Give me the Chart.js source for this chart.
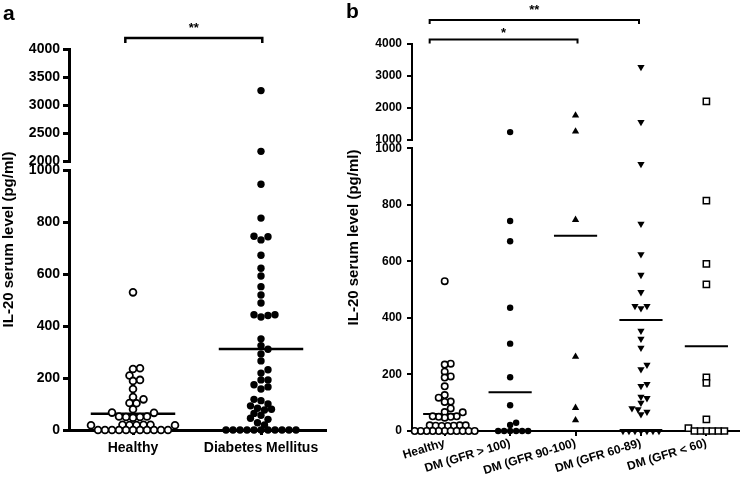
<!DOCTYPE html>
<html>
<head>
<meta charset="utf-8">
<script src="https://cdn.jsdelivr.net/npm/chart.js@4"></script>
<style>
  body { margin: 0; background: #fff; }
  #wrap { position: relative; width: 745px; height: 486px; overflow: hidden; }
  canvas { position: absolute; top: 0; }
  #cA { left: 0; }
  #cB { left: 340px; }
  .panel { position: absolute; font: bold 21px "Liberation Sans", Arial, sans-serif; line-height: 21px; }
</style>
</head>
<body>
<div id="wrap">
  <canvas id="cA" width="340" height="486"></canvas>
  <canvas id="cB" width="405" height="486"></canvas>
  <div class="panel" style="left:3px;top:2px">a</div>
  <div class="panel" style="left:346px;top:0px">b</div>
</div>

<script>
// ============================================================
// DATA (IL-20 serum level, pg/ml)
// ============================================================

const catsA = ["Healthy", "Diabetes Mellitus"];
const catsB = ["Healthy", "DM (GFR > 100)", "DM (GFR 90-100)", "DM (GFR 60-89)", "DM (GFR < 60)"];

const healthy = [530, 238, 235, 210, 193, 189, 158, 127, 118, 104, 103, 80, 67, 66,
  52, 50, 47, 50, 52, 20, 19, 18, 20, 19, 18, 20, 0, 0, 0, 0, 0, 0, 0, 0, 0, 0, 0];

const diabetes = [3260, 2180, 946, 816, 746, 732, 744, 673, 623, 593, 552, 520, 489,
  444, 441, 435, 444, 351, 325, 311, 293, 266, 232, 219, 193, 193, 174, 166, 158,
  118, 113, 100, 93, 84, 80, 77, 64, 57, 45, 41, 28, 19, 0, 0, 0, 0, 0, 0, 0, 0, 0, 0, 0];

const gfrOver100 = [1240, 743, 671, 436, 309, 190, 91, 29, 21, 0, 0, 0, 0, 0, 0];
const gfr90to100 = [1760, 1260, 747, 263, 82, 38];
const gfr60to89 = [3280, 1555, 944, 733, 625, 552, 491, 442, 434, 442, 354, 326, 294,
  218, 234, 166, 159, 121, 100, 116, 80, 68, 59, 77, 0, 0, 0, 0, 0, 0, 0];
const gfrUnder60 = [2200, 815, 591, 519, 190, 170, 41, 10, 0, 0, 0, 0, 0, 0];

// horizontal group lines
const barsA = [63, 312];
const barsB = [60, 137, 691, 393, 300];

// axis ticks
const lowTicks = [0, 200, 400, 600, 800, 1000];
const highTicksA = [2000, 2500, 3000, 3500, 4000];
const highTicksB = [1000, 2000, 3000, 4000];

const FONT = '"Liberation Sans", Arial, sans-serif';
Chart.defaults.font.family = FONT;
Chart.defaults.color = "#000";


// ============================================================
// HELPERS
// ============================================================

function groupSets(values, cat, cut, style) {
  const lo = values.filter(v => v <= cut).map(v => ({ x: cat, y: v, cat }));
  const hi = values.filter(v => v > cut).map(v => ({ x: cat, y: v, cat }));
  return [
    Object.assign({ type: "scatter", data: lo, yAxisID: "yLo", clip: false }, style),
    Object.assign({ type: "scatter", data: hi, yAxisID: "yHi", clip: false }, style)
  ];
}

function barSet(cat, value, width) {
  return {
    type: "line",
    data: [{ x: cat - 0.33, y: value }, { x: cat + 0.33, y: value }],
    yAxisID: "yLo", borderColor: "#000", borderWidth: width,
    pointRadius: 0, fill: false, clip: false
  };
}

function yAxis(ticks, weight, w, size, lw, tickLen, pad, order) {
  return {
    type: "linear", position: "left", stack: "y", stackWeight: weight, weight: order,
    min: ticks[0], max: ticks[ticks.length - 1],
    afterBuildTicks: s => { s.ticks = ticks.map(v => ({ value: v })); },
    ticks: { autoSkip: false, padding: pad, font: { size, weight: "bold" }, callback: v => String(v) },
    grid: { drawOnChartArea: false, drawTicks: true, tickLength: tickLen, lineWidth: lw, color: "#000" },
    border: { display: true, color: "#000", width: lw },
    afterFit: s => { s.width = w; }
  };
}

function gapAxis(weight, w) {
  return {
    type: "linear", position: "left", stack: "y", stackWeight: weight, weight: 2,
    min: 0, max: 1,
    ticks: { display: false }, grid: { display: false }, border: { display: false },
    afterFit: s => { s.width = w; }
  };
}

function xAxis(cats, size, rotation, lw, h, pad) {
  return {
    type: "linear", position: "bottom", min: 0.5, max: cats.length + 0.5,
    afterBuildTicks: s => { s.ticks = cats.map((c, i) => ({ value: i + 1 })); },
    ticks: {
      autoSkip: false, minRotation: rotation, maxRotation: rotation, padding: pad,
      font: { size, weight: "bold" }, callback: v => cats[v - 1]
    },
    grid: { drawOnChartArea: false, drawTicks: true, tickLength: 5, lineWidth: lw, color: "#000" },
    border: { color: "#000", width: lw },
    afterFit: s => { s.height = h; }
  };
}

// brackets + rotated y title
const annotate = {
  id: "annotate",
  afterDraw(chart, args, opts) {
    const ctx = chart.ctx, xs = chart.scales.x, area = chart.chartArea;
    ctx.save();
    ctx.strokeStyle = "#000";
    ctx.fillStyle = "#000";
    ctx.lineWidth = opts.lineWidth;
    ctx.font = "bold 13px " + FONT;
    ctx.textAlign = "center";
    opts.brackets.forEach(b => {
      const x0 = xs.getPixelForValue(b.from), x1 = xs.getPixelForValue(b.to);
      ctx.beginPath();
      ctx.moveTo(x0, b.y + b.drop);
      ctx.lineTo(x0, b.y);
      ctx.lineTo(x1, b.y);
      ctx.lineTo(x1, b.y + b.drop);
      ctx.stroke();
      ctx.fillText(b.label, (x0 + x1) / 2, b.textY);
    });
    ctx.translate(opts.titleX, (area.top + area.bottom) / 2);
    ctx.rotate(-Math.PI / 2);
    ctx.font = "bold 15px " + FONT;
    ctx.textBaseline = "middle";
    ctx.fillText("IL-20 serum level (pg/ml)", 0, 0);
    ctx.restore();
  }
};

// beeswarm-like spread of points inside each category
function spread(chart, step, minDist) {
  const xs = chart.scales.x;
  const pxPerUnit = xs.getPixelForValue(1) - xs.getPixelForValue(0);
  const byCat = {};
  chart.data.datasets.forEach(ds => {
    if (ds.type !== "scatter") return;
    const ys = chart.scales[ds.yAxisID];
    ds.data.forEach(p => {
      (byCat[p.cat] = byCat[p.cat] || []).push({ p, py: ys.getPixelForValue(p.y) });
    });
  });
  Object.values(byCat).forEach(list => {
    list.sort((a, b) => b.py - a.py);
    const placed = [];
    list.forEach(item => {
      let off = 0;
      for (let k = 0; k < 80; k++) {
        off = (k % 2 ? 1 : -1) * Math.ceil(k / 2) * step;
        if (placed.every(q => Math.hypot(q.off - off, q.py - item.py) >= minDist)) break;
      }
      placed.push({ off, py: item.py });
      item.p.x = item.p.cat + off / pxPerUnit;
    });
  });
  chart.update("none");
}

const baseOpts = {
  responsive: false,
  animation: false,
  events: [],
  plugins: { legend: { display: false }, tooltip: { enabled: false } }
};


// ============================================================
// PANEL A
// ============================================================

const openCircle = { pointStyle: "circle", pointRadius: 3.4, pointBorderWidth: 1.8, pointBackgroundColor: "#fff", pointBorderColor: "#000" };
const dotA = { pointStyle: "circle", pointRadius: 3.7, pointBorderWidth: 0, pointBackgroundColor: "#000", pointBorderColor: "#000" };

const chartA = new Chart(document.getElementById("cA"), {
  type: "scatter",
  data: {
    datasets: [
      ...groupSets(healthy, 1, 1000, openCircle),
      ...groupSets(diabetes, 2, 1000, dotA),
      barSet(1, barsA[0], 2.5),
      barSet(2, barsA[1], 2.5)
    ]
  },
  options: Object.assign({}, baseOpts, {
    layout: { padding: { top: 49, right: 15, left: 0, bottom: 0 } },
    scales: {
      x: xAxis(catsA, 14, 0, 3, 56, 5),
      yLo: yAxis(lowTicks, 259.5, 69, 14, 3, 6, 3, 1),
      yGap: gapAxis(8.8, 69),
      yHi: yAxis(highTicksA, 112.4, 69, 14, 3, 6, 3, 3)
    },
    plugins: Object.assign({}, baseOpts.plugins, {
      annotate: {
        lineWidth: 2.5, titleX: 9,
        brackets: [{ from: 0.94, to: 2.01, y: 38, drop: 5, label: "**", textY: 32 }]
      }
    })
  }),
  plugins: [annotate]
});
spread(chartA, 3.5, 6);


// ============================================================
// PANEL B
// ============================================================

const dotB = { pointStyle: "circle", pointRadius: 3.2, pointBorderWidth: 0, pointBackgroundColor: "#000", pointBorderColor: "#000" };
const triUp = { pointStyle: "triangle", pointRadius: 4.2, pointBorderWidth: 0, pointBackgroundColor: "#000", pointBorderColor: "#000" };
const triDown = { pointStyle: "triangle", pointRotation: 180, pointRadius: 4.2, pointBorderWidth: 0, pointBackgroundColor: "#000", pointBorderColor: "#000" };
const openSquare = { pointStyle: "rect", pointRadius: 4.4, pointBorderWidth: 1.5, pointBackgroundColor: "#fff", pointBorderColor: "#000" };
const openCircleB = Object.assign({}, openCircle, { pointRadius: 3.2, pointBorderWidth: 1.6 });

const chartB = new Chart(document.getElementById("cB"), {
  type: "scatter",
  data: {
    datasets: [
      ...groupSets(healthy, 1, 1000, openCircleB),
      ...groupSets(gfrOver100, 2, 1000, dotB),
      ...groupSets(gfr90to100, 3, 1000, triUp),
      ...groupSets(gfr60to89, 4, 1000, triDown),
      ...groupSets(gfrUnder60, 5, 1000, openSquare),
      ...barsB.map((v, i) => barSet(i + 1, v, 2))
    ]
  },
  options: Object.assign({}, baseOpts, {
    layout: { padding: { top: 44, right: 2, left: 0, bottom: 0 } },
    scales: {
      x: xAxis(catsB, 12, 17, 2, 55, 0),
      yLo: yAxis(lowTicks, 282.5, 72, 12, 2, 5, 5, 1),
      yGap: gapAxis(8.5, 72),
      yHi: yAxis(highTicksB, 95.7, 72, 12, 2, 5, 5, 3)
    },
    plugins: Object.assign({}, baseOpts.plugins, {
      annotate: {
        lineWidth: 2, titleX: 14,
        brackets: [
          { from: 0.77, to: 3.97, y: 20, drop: 4, label: "**", textY: 14 },
          { from: 0.77, to: 3.03, y: 39.5, drop: 4, label: "*", textY: 37 }
        ]
      }
    })
  }),
  plugins: [annotate]
});
spread(chartB, 3, 5.5);
</script>
</body>
</html>
